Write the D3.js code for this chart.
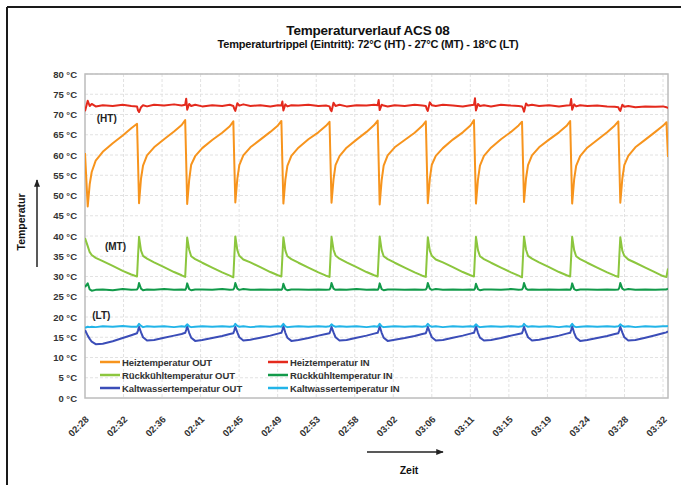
<!DOCTYPE html>
<html>
<head>
<meta charset="utf-8">
<script src="https://cdn.jsdelivr.net/npm/d3@7"></script>
<style>
  body { margin: 0; background: #fff; }
  svg { font-family: "Liberation Sans", Arial, sans-serif; }
</style>
</head>
<body>
<svg width="681" height="485"></svg>
<script>
// Zeit in Minuten ab 02:28
const zeit = [
  0, 0.30, 0.52, 0.74, 1.18, 1.96, 3.06, 4.16, 5.10,
  5.74, 5.85, 5.96, 6.18, 6.40, 6.84, 7.62, 8.72, 9.82, 10.66,
  11.05, 11.16, 11.27, 11.49, 11.71, 12.15, 12.93, 14.03, 15.13, 15.97,
  16.36, 16.47, 16.58, 16.80, 17.02, 17.46, 18.24, 19.34, 20.44, 21.28,
  21.66, 21.77, 21.88, 22.10, 22.32, 22.76, 23.54, 24.64, 25.74, 26.58,
  26.97, 27.08, 27.19, 27.41, 27.63, 28.07, 28.85, 29.95, 31.05, 31.89,
  32.28, 32.39, 32.50, 32.72, 32.94, 33.38, 34.16, 35.26, 36.36, 37.20,
  37.59, 37.70, 37.81, 38.03, 38.25, 38.69, 39.47, 40.57, 41.67, 42.51,
  42.90, 43.01, 43.12, 43.34, 43.56, 44.00, 44.78, 45.88, 46.98, 47.82,
  48.20, 48.31, 48.42, 48.64, 48.86, 49.30, 50.08, 51.18, 52.28, 53.12,
  53.51, 53.62, 53.73, 53.95, 54.17, 54.61, 55.39, 56.49, 57.59, 58.43,
  58.82, 58.93, 59.04, 59.26, 59.48, 59.92, 60.70, 61.80, 62.90, 63.74,
  64.13, 64.30
]
const heizOut = [
  60.5, 47.3, 52.8, 55.8, 58.6, 60.8, 62.9, 64.8, 66.6,
  67.7, 58.2, 48.1, 54.2, 57.4, 59.9, 61.9, 63.9, 65.8, 67.4,
  68.6, 58.5, 47.9, 53.8, 57.6, 59.7, 61.7, 63.7, 65.5, 67.1,
  68.3, 57.9, 48.3, 54.1, 57.5, 59.9, 61.9, 63.8, 65.7, 67.3,
  68.4, 58.1, 48.0, 53.9, 57.3, 59.8, 61.8, 63.9, 65.6, 67.2,
  68.2, 58.0, 48.2, 54.0, 57.5, 59.7, 61.8, 63.8, 65.7, 67.4,
  68.5, 58.3, 47.8, 53.8, 57.4, 59.9, 61.9, 63.7, 65.5, 67.2,
  68.3, 58.0, 48.1, 54.1, 57.6, 59.8, 61.7, 63.8, 65.6, 67.3,
  68.6, 58.2, 48.0, 53.9, 57.4, 59.8, 61.8, 63.9, 65.7, 67.3,
  68.2, 58.1, 48.4, 54.2, 57.5, 59.9, 61.9, 63.8, 65.6, 67.2,
  68.4, 58.0, 48.0, 54.0, 57.3, 59.7, 61.8, 63.7, 65.6, 67.3,
  68.3, 58.2, 48.2, 54.1, 57.5, 59.8, 61.9, 63.8, 65.7, 67.2,
  68.1, 59.5
]
const heizIn = [
  70.8, 73.4, 72.1, 72.6, 72.0, 72.3, 72.1, 72.4, 72.1,
  72.0, 71.0, 70.6, 71.8, 72.3, 72.0, 72.4, 72.2, 72.5, 72.2,
  72.4, 73.9, 71.2, 72.6, 72.1, 72.4, 72.0, 72.3, 72.1, 72.4,
  72.1, 71.4, 70.9, 72.8, 72.2, 72.5, 72.1, 72.3, 72.0, 72.3,
  72.2, 73.2, 71.0, 72.5, 72.0, 72.3, 72.2, 72.4, 72.1, 72.2,
  72.0, 71.2, 70.8, 72.9, 72.1, 72.4, 72.0, 72.3, 72.2, 72.4,
  72.3, 73.6, 71.1, 72.4, 72.2, 72.0, 72.3, 72.1, 72.4, 72.2,
  72.1, 71.3, 70.9, 73.0, 72.3, 72.1, 72.4, 72.2, 72.0, 72.3,
  72.4, 74.0, 71.0, 72.6, 72.1, 72.3, 72.0, 72.4, 72.2, 72.1,
  72.0, 71.5, 70.7, 72.7, 72.2, 72.4, 72.1, 72.3, 72.0, 72.2,
  72.3, 73.8, 71.2, 72.5, 72.0, 72.3, 72.1, 72.2, 72.0, 71.9,
  71.8, 71.2, 70.9, 72.4, 71.9, 72.1, 71.8, 72.0, 71.9, 72.0,
  71.8, 71.6
]
const kuehlOut = [
  39.5, 37.5, 36.0, 35.3, 34.6, 33.8, 32.6, 31.4, 30.5,
  30.0, 35.2, 39.8, 36.4, 35.1, 34.4, 33.5, 32.3, 31.1, 30.3,
  29.9, 34.8, 39.6, 36.6, 35.0, 34.3, 33.4, 32.2, 31.0, 30.2,
  29.8, 35.0, 39.9, 36.5, 35.1, 34.2, 33.5, 32.3, 31.1, 30.3,
  30.0, 34.9, 39.7, 36.4, 35.0, 34.3, 33.4, 32.2, 31.0, 30.2,
  29.9, 35.1, 39.8, 36.6, 35.2, 34.4, 33.5, 32.3, 31.1, 30.3,
  30.0, 35.0, 39.9, 36.5, 35.0, 34.3, 33.4, 32.2, 31.0, 30.2,
  29.9, 34.9, 39.7, 36.4, 35.1, 34.2, 33.5, 32.3, 31.1, 30.3,
  30.0, 35.1, 39.8, 36.5, 35.0, 34.3, 33.4, 32.2, 31.0, 30.2,
  29.8, 35.0, 39.9, 36.6, 35.1, 34.4, 33.5, 32.3, 31.1, 30.3,
  30.0, 34.9, 39.8, 36.5, 35.0, 34.3, 33.4, 32.2, 31.0, 30.2,
  29.9, 35.0, 39.7, 36.4, 35.1, 34.2, 33.4, 32.2, 31.0, 30.1,
  29.9, 32.0
]
const kuehlIn = [
  27.4, 28.3, 26.8, 26.5, 26.7, 26.8, 26.6, 26.9, 26.7,
  26.8, 27.2, 28.4, 27.0, 26.6, 26.8, 26.7, 26.9, 26.7, 26.8,
  26.7, 27.1, 28.3, 26.9, 26.6, 26.8, 26.8, 26.7, 26.9, 26.7,
  26.8, 27.2, 28.4, 27.0, 26.7, 26.9, 26.7, 26.8, 26.7, 26.8,
  26.7, 27.0, 28.2, 26.9, 26.6, 26.8, 26.8, 26.7, 26.8, 26.7,
  26.8, 27.2, 28.4, 27.0, 26.7, 26.8, 26.7, 26.9, 26.7, 26.8,
  26.7, 27.1, 28.3, 26.9, 26.6, 26.8, 26.8, 26.7, 26.8, 26.7,
  26.8, 27.2, 28.4, 27.0, 26.7, 26.9, 26.7, 26.8, 26.7, 26.8,
  26.7, 27.0, 28.2, 26.9, 26.6, 26.8, 26.8, 26.7, 26.9, 26.7,
  26.8, 27.2, 28.4, 27.0, 26.7, 26.8, 26.7, 26.8, 26.7, 26.8,
  26.7, 27.1, 28.3, 26.9, 26.6, 26.8, 26.8, 26.7, 26.8, 26.7,
  26.8, 27.2, 28.4, 27.0, 26.7, 26.9, 26.7, 26.8, 26.7, 26.8,
  26.8, 27.0
]
const kaltOut = [
  16.8, 15.4, 14.6, 13.9, 13.3, 13.4, 14.0, 14.8, 15.5,
  16.0, 16.7, 17.6, 16.2, 15.0, 14.2, 14.3, 14.9, 15.4, 15.8,
  16.1, 16.8, 17.7, 16.1, 14.9, 14.1, 14.3, 14.8, 15.3, 15.8,
  16.0, 16.7, 17.6, 16.2, 15.0, 14.2, 14.4, 14.9, 15.4, 15.9,
  16.1, 16.8, 17.8, 16.1, 14.9, 14.1, 14.3, 14.8, 15.4, 15.8,
  16.0, 16.7, 17.6, 16.2, 15.0, 14.2, 14.3, 14.9, 15.4, 15.9,
  16.1, 16.8, 17.7, 16.1, 14.9, 14.1, 14.4, 14.8, 15.3, 15.8,
  16.0, 16.7, 17.6, 16.2, 15.0, 14.2, 14.3, 14.9, 15.4, 15.9,
  16.1, 16.8, 17.8, 16.1, 14.9, 14.2, 14.3, 14.8, 15.4, 15.8,
  16.0, 16.7, 17.6, 16.2, 15.0, 14.2, 14.4, 14.9, 15.4, 15.9,
  16.1, 16.8, 17.7, 16.1, 14.9, 14.1, 14.3, 14.8, 15.3, 15.8,
  16.0, 16.7, 17.6, 16.2, 15.0, 14.2, 14.3, 14.9, 15.5, 16.0,
  16.2, 16.5
]
const kaltIn = [
  17.3, 17.6, 17.5, 17.6, 17.5, 17.7, 17.6, 17.8, 17.6,
  17.6, 17.9, 18.3, 17.8, 17.5, 17.7, 17.6, 17.7, 17.5, 17.7,
  17.6, 17.9, 18.2, 17.7, 17.5, 17.6, 17.7, 17.6, 17.7, 17.6,
  17.7, 17.9, 18.3, 17.8, 17.6, 17.7, 17.5, 17.7, 17.6, 17.7,
  17.6, 18.0, 18.3, 17.7, 17.5, 17.6, 17.7, 17.6, 17.7, 17.6,
  17.7, 17.9, 18.2, 17.8, 17.6, 17.7, 17.6, 17.7, 17.5, 17.7,
  17.6, 17.9, 18.3, 17.7, 17.5, 17.6, 17.7, 17.6, 17.7, 17.6,
  17.7, 18.0, 18.3, 17.8, 17.6, 17.7, 17.5, 17.7, 17.6, 17.7,
  17.6, 17.9, 18.2, 17.7, 17.5, 17.6, 17.7, 17.6, 17.7, 17.6,
  17.7, 17.9, 18.3, 17.8, 17.6, 17.7, 17.6, 17.7, 17.5, 17.7,
  17.6, 18.0, 18.3, 17.7, 17.5, 17.6, 17.7, 17.6, 17.7, 17.6,
  17.7, 17.9, 18.2, 17.8, 17.6, 17.7, 17.5, 17.7, 17.6, 17.7,
  17.7, 17.8
]

const tickZeiten = ['02:28', '02:32', '02:36', '02:41', '02:45', '02:49', '02:53', '02:58',
  '03:02', '03:06', '03:11', '03:15', '03:19', '03:24', '03:28', '03:32']
const tickAbstand = 4.25
const yTicks = [0, 5, 10, 15, 20, 25, 30, 35, 40, 45, 50, 55, 60, 65, 70, 75, 80]

const reihen = [
  {name: 'Heiztemperatur OUT', werte: heizOut, farbe: '#f7941d'},
  {name: 'Heiztemperatur IN', werte: heizIn, farbe: '#e42a1d'},
  {name: 'Rückkühltemperatur OUT', werte: kuehlOut, farbe: '#8cc63e'},
  {name: 'Rückkühltemperatur IN', werte: kuehlIn, farbe: '#129a4a'},
  {name: 'Kaltwassertemperatur OUT', werte: kaltOut, farbe: '#3b4db8'},
  {name: 'Kaltwassertemperatur IN', werte: kaltIn, farbe: '#22b4e8'}
]

const svg = d3.select('svg')
const pLeft = 85, pRight = 668, pTop = 74, pBottom = 398

const xs = d3.scaleLinear().domain([0, 64.3]).range([pLeft, pRight])
const ys = d3.scaleLinear().domain([0, 80]).range([pBottom, pTop])

// Rahmen oben / links
svg.append('line').attr('x1', 7).attr('x2', 681).attr('y1', 7).attr('y2', 7)
  .attr('stroke', '#1a1a1a').attr('stroke-width', 2)
svg.append('line').attr('x1', 7).attr('x2', 7).attr('y1', 7).attr('y2', 485)
  .attr('stroke', '#1a1a1a').attr('stroke-width', 2)

// Titel
svg.append('text').attr('x', 368).attr('y', 35).attr('text-anchor', 'middle')
  .attr('font-size', 13.5).attr('font-weight', 'bold').attr('fill', '#111')
  .attr('letter-spacing', -0.2)
  .text('Temperaturverlauf ACS 08')
svg.append('text').attr('x', 368).attr('y', 48).attr('text-anchor', 'middle')
  .attr('font-size', 11).attr('font-weight', 'bold').attr('fill', '#111')
  .attr('letter-spacing', -0.2)
  .text('Temperaturtrippel (Eintritt): 72°C (HT) - 27°C (MT) - 18°C (LT)')

// Gitter
const xTickWerte = tickZeiten.map((d, i) => i * tickAbstand)
svg.append('g').selectAll('line').data(yTicks.slice(1)).enter().append('line')
  .attr('x1', pLeft).attr('x2', pRight)
  .attr('y1', d => ys(d)).attr('y2', d => ys(d))
  .attr('stroke', '#e2e2e2').attr('stroke-dasharray', '3,2')
svg.append('g').selectAll('line').data(xTickWerte.slice(1)).enter().append('line')
  .attr('x1', d => xs(d)).attr('x2', d => xs(d))
  .attr('y1', pTop).attr('y2', pBottom)
  .attr('stroke', '#e2e2e2').attr('stroke-dasharray', '3,2')

svg.append('rect').attr('x', pLeft).attr('y', pTop).attr('width', pRight - pLeft).attr('height', pBottom - pTop)
  .attr('fill', 'none').attr('stroke', '#bcbcbc').attr('stroke-width', 1.5)

// y-Achse
svg.append('g').attr('transform', 'translate(' + pLeft + ',0)')
  .call(d3.axisLeft(ys).tickValues(yTicks).tickSize(0).tickPadding(8).tickFormat(d => d + ' °C'))
  .call(g => g.select('.domain').remove())
  .selectAll('text').attr('font-size', 9.5).attr('font-weight', 'bold').attr('fill', '#333')
  .attr('font-family', '"Liberation Sans", Arial, sans-serif')

// x-Achse
svg.append('g').attr('transform', 'translate(0,' + pBottom + ')')
  .call(d3.axisBottom(xs).tickValues(xTickWerte).tickSize(0).tickFormat((d, i) => tickZeiten[i]))
  .call(g => g.select('.domain').remove())
  .selectAll('text')
  .attr('font-size', 9.5).attr('font-weight', 'bold').attr('fill', '#333')
  .attr('font-family', '"Liberation Sans", Arial, sans-serif')
  .attr('text-anchor', 'end').attr('dy', 0).attr('y', 0)
  .attr('transform', 'translate(4,22) rotate(-45)')

// Linien
svg.append('clipPath').attr('id', 'clip').append('rect')
  .attr('x', pLeft).attr('y', pTop).attr('width', pRight - pLeft).attr('height', pBottom - pTop)
const linie = d3.line().x((d, i) => xs(zeit[i])).y(d => ys(d))
svg.append('g').attr('clip-path', 'url(#clip)').selectAll('path').data(reihen).enter().append('path')
  .attr('d', d => linie(d.werte))
  .attr('fill', 'none').attr('stroke', d => d.farbe).attr('stroke-width', 2)
  .attr('stroke-linejoin', 'round')

// Beschriftungen HT / MT / LT
const marken = [{t: '(HT)', x: 1.3, y: 68.2}, {t: '(MT)', x: 2.2, y: 36.5}, {t: '(LT)', x: 0.8, y: 19.5}]
svg.append('g').selectAll('text').data(marken).enter().append('text')
  .attr('x', d => xs(d.x)).attr('y', d => ys(d.y))
  .attr('font-size', 10).attr('font-weight', 'bold').attr('fill', '#222')
  .text(d => d.t)

// Legende
const leg = svg.append('g').selectAll('g').data(reihen).enter().append('g')
  .attr('transform', (d, i) => 'translate(' + (i % 2 == 0 ? 100 : 268) + ',' + (362 + Math.floor(i / 2) * 13) + ')')
leg.append('line').attr('x1', 0).attr('x2', 20).attr('y1', 0).attr('y2', 0)
  .attr('stroke', d => d.farbe).attr('stroke-width', 2.5)
leg.append('text').attr('x', 22).attr('y', 3.5).attr('font-size', 9.5).attr('font-weight', 'bold').attr('fill', '#333')
  .attr('letter-spacing', -0.1)
  .text(d => d.name)

// Achsentitel mit Pfeilen
svg.append('defs').append('marker').attr('id', 'pfeil').attr('viewBox', '0 0 10 10')
  .attr('refX', 9).attr('refY', 5).attr('markerWidth', 5).attr('markerHeight', 5).attr('orient', 'auto')
  .append('path').attr('d', 'M0,1 L10,5 L0,9 z').attr('fill', '#222')
svg.append('line').attr('x1', 37).attr('x2', 37).attr('y1', 267).attr('y2', 180)
  .attr('stroke', '#222').attr('stroke-width', 1.5).attr('marker-end', 'url(#pfeil)')
svg.append('text').attr('transform', 'translate(25,222) rotate(-90)').attr('text-anchor', 'middle')
  .attr('font-size', 10.5).attr('font-weight', 'bold').attr('fill', '#111').text('Temperatur')
svg.append('line').attr('x1', 367).attr('x2', 443).attr('y1', 452).attr('y2', 452)
  .attr('stroke', '#222').attr('stroke-width', 1.5).attr('marker-end', 'url(#pfeil)')
svg.append('text').attr('x', 409).attr('y', 474).attr('text-anchor', 'middle')
  .attr('font-size', 10.5).attr('font-weight', 'bold').attr('fill', '#111').text('Zeit')
</script>
</body>
</html>
